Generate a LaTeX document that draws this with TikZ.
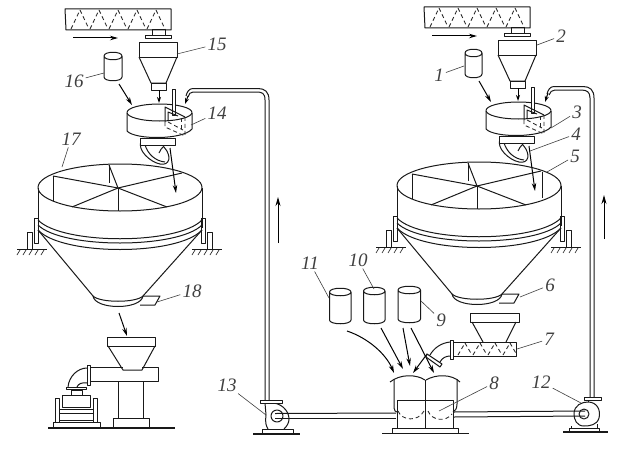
\documentclass[tikz,border=0pt]{standalone}
\usepackage{fontspec}
\setmainfont{Liberation Serif}
\usetikzlibrary{arrows.meta}
\tikzset{
  ln/.style={draw=black!90,line width=1pt,line join=round},
  thin ln/.style={draw=black!80,line width=0.7pt},
  dash ln/.style={draw=black!85,line width=0.85pt,dash pattern=on 4pt off 3pt},
  flow/.style={draw=black,line width=1pt,-{Stealth[length=8pt,width=4.5pt]}},
  lbl/.style={font=\fontsize{19}{19}\selectfont\itshape,text=black!75,inner sep=2pt},
  lead/.style={draw=black!75,line width=0.6pt}
}
\newcommand{\drum}[4]{% x1,x2,ytop,ybottom
  \draw[ln] (#1,#3) .. controls (#1,#3-5) and (#2,#3-5) .. (#2,#3) .. controls (#2,#3+5) and (#1,#3+5) .. (#1,#3) -- (#1,#4) .. controls (#1,#4+5) and (#2,#4+5) .. (#2,#4) -- (#2,#3);
}
\newcommand{\support}[3]{% post x, bracket x, ground centre
  \draw[ln] (#1-2.5,232) rectangle (#1+2.5,249);
  \draw[ln] (#2-2,218) rectangle (#2+2,243);
  \draw[ln,line width=1.2pt] (#3-15,249.5) -- (#3+15,249.5);
  \foreach \hx in {-12,-6,0,6,12} \draw[thin ln] (#3+\hx,250) -- (#3+\hx-3,255);
}
\newcommand{\feedunit}{%
  % conveyor
  \draw[ln] (65,9) -- (171,9) -- (171,30) -- (66,30) -- cycle;
  \foreach \zx in {71,90,109,128,147} {
    \draw[dash ln] (\zx,29) -- (\zx+9,10);
    \draw[dash ln] (\zx+9,10) -- (\zx+18,29);
  }
  \draw[ln] (152,30) rectangle (165,36);
  \draw[ln,fill=white] (145,36) rectangle (171,39);
  \draw[flow] (73,38) -- (118,38);
  % cyclone
  \draw[ln] (139,43) rectangle (177,57);
  \draw[ln] (139,57) -- (151,83) -- (166,83) -- (177,57);
  \draw[ln] (151,83) rectangle (166,90);
  \draw[flow,-{Stealth[length=6pt,width=4pt]}] (159,90) -- (159,103);
  % outlet and chute
  \draw[ln] (141,141) .. controls (137,150) and (150,162) .. (160,164)
     .. controls (170,166) and (172,156) .. (164,147);
  \draw[ln] (145,145) .. controls (148,154) and (155,161) .. (165,162);
  \draw[ln] (159,153) .. controls (160,150) and (162,148) .. (164,146);
  \draw[ln,fill=white] (140,138) rectangle (175,145);
  % bowl
  \draw[ln,fill=white] (127,113) -- (127,131) .. controls (135,140) and (183,140) .. (192,129) -- (192,113);
  \draw[ln,fill=white] (159.5,112.5) ellipse [x radius=32.5pt,y radius=8.5pt];
  % paddle
  \draw[ln,fill=white] (172,89) rectangle (175,115);
  \draw[ln] (165,122) -- (165,107) -- (185,117);
  \draw[ln] (168,121) -- (168,112) -- (178,116);
  \draw[dash ln] (165,122) -- (165,127) -- (185,136) -- (185,117);
  \draw[dash ln] (168,122) -- (183,130);
  \draw[dash ln] (181,118) -- (181,131);
  % flow into the tank
  \draw[flow] (170,148) -- (176,193);
  % tank
  \draw[ln] (120,187.5) ellipse [x radius=82pt,y radius=23.5pt];
  \draw[ln] (38,188) -- (38,228);
  \draw[ln] (202,188) -- (202,228);
  \draw[ln] (118,188) -- (53,176);
  \draw[ln] (118,188) -- (72,207);
  \draw[ln] (118,188) -- (167,207);
  \draw[ln] (118,188) -- (182,173);
  \draw[ln] (118,188) -- (109,165);
  \draw[ln] (53,176) -- (53,201);
  \draw[ln] (118,188) -- (118,211);
  \draw[ln] (109,165) -- (109,183);
  % rings
  \draw[ln] (38,220) .. controls (62,245) and (178,245) .. (202,220);
  \draw[ln] (38,225) .. controls (62,249) and (178,249) .. (202,225);
  \draw[ln] (38,230) .. controls (62,256) and (178,256) .. (202,230);
  % cone
  \draw[ln] (38,230) -- (93,296);
  \draw[ln] (202,230) -- (143,296);
  \draw[ln] (93,296) .. controls (95,310) and (141,310) .. (143,296);
  \draw[ln] (93,296) .. controls (100,303) and (136,303) .. (143,296);
  \support{29.5}{36}{32}
  \support{210}{203}{207}
  % gate
  \draw[ln] (143,296) -- (160,296) -- (155,305) -- (140,305);
}
\begin{document}
\begin{tikzpicture}[x=1pt,y=-1pt]
\useasboundingbox (0,0) rectangle (628,452);
\fill[white] (0,0) rectangle (628,452);

\feedunit
\begin{scope}[shift={(359,-2)}]
  \feedunit
  \draw[ln] (183,174) -- (183,200);
\end{scope}

% small drums above the bowls
\drum{104}{122}{56}{77}
\drum{465}{482}{53}{74}
\draw[flow] (119,84) -- (132,105);
\draw[flow] (479,81) -- (491,102);

% return pipes
\draw[ln] (265,400) -- (265,100) .. controls (265,93) and (262,92) .. (256,92) -- (193,92) .. controls (190,92) and (189,94) .. (188,97);
\draw[ln] (269,400) -- (269,100) .. controls (269,92) and (265,88.5) .. (258,88.5) -- (193,88.5) .. controls (189,88.5) and (187,92) .. (186,96);
\draw[flow,-{Stealth[length=6pt,width=4pt]}] (188,96) -- (185,104);
\draw[ln] (590,397) -- (590,98) .. controls (590,92) and (587,90) .. (581,90) -- (555,90) .. controls (552,90) and (550,92) .. (549,95);
\draw[ln] (594,397) -- (594,98) .. controls (594,90) and (590,86.5) .. (583,86.5) -- (554,86.5) .. controls (550,86.5) and (548,90) .. (547,94);
\draw[flow,-{Stealth[length=6pt,width=4pt]}] (548,93) -- (545,102);
\draw[flow,-{Stealth[length=9pt,width=5pt]}] (278,243) -- (278,197);
\draw[flow,-{Stealth[length=9pt,width=5pt]}] (604,239) -- (604,195);

% pump 13
\draw[ln] (265,403) -- (266,415) .. controls (265,422) and (266,426) .. (268,429);
\draw[ln] (270,403) .. controls (280,402) and (289,410) .. (289,419) .. controls (289,423) and (287,426) .. (284,429);
\draw[ln,fill=white] (260,400) rectangle (282,403);
\draw[ln] (262,429) rectangle (293,433);
\draw[ln,line width=1.2pt] (253,434) -- (300,434);
\draw[ln] (277,416) circle[radius=6pt];
% pump 12
\draw[ln] (574,414) .. controls (574,405) and (582,402) .. (588,402) .. controls (597,402) and (601,410) .. (599,418) .. controls (597,425) and (590,426) .. (584,426) .. controls (577,426) and (574,420) .. (574,414);
\draw[ln,fill=white] (584,397) rectangle (601,400);
\draw[ln] (588,400) -- (588,402);
\draw[ln] (571,426) -- (571,428);
\draw[ln] (597,424) -- (597,428);
\draw[ln] (569,428) rectangle (599,431);
\draw[ln,line width=1.2pt] (563,432) -- (608,432);
\draw[ln] (584,414) circle[radius=5pt];

% horizontal pipes
\draw[ln] (275,413.5) -- (396,413);
\draw[ln] (275,418) -- (396,418);
\draw[ln] (454,412) -- (585,411);
\draw[ln] (454,417) -- (585,416);

% drums 9 10 11
\drum{329.5}{351}{292}{320}
\drum{363.5}{385}{291}{320}
\drum{398}{420.5}{290}{319}

% flows to the mixer
\draw[flow] (347,331) .. controls (368,338) and (386,354) .. (394,373);
\draw[flow] (381,328) -- (403,369);
\draw[flow] (403,328) -- (410,366);
\draw[flow] (411,328) -- (434,373);
\draw[flow] (427,354) -- (413,373);

% screw 7
\draw[ln] (452,342) rectangle (516,356);
\foreach \zx in {458,473,488,503} {
  \draw[dash ln] (\zx,355) -- (\zx+7,343);
  \draw[dash ln] (\zx+7,343) -- (\zx+14,355);
}
\draw[ln,fill=white] (450,340) rectangle (453,359);
\draw[ln] (470,313) rectangle (519,322);
\draw[ln] (472,322) -- (483,342);
\draw[ln] (516,322) -- (506,342);
\draw[ln] (450,342) .. controls (441,343) and (434,348) .. (430,355);
\draw[ln] (450,356) .. controls (446,356) and (442,358) .. (440,362);
\draw[ln,fill=white] (427,354) -- (442,364) -- (440,367) -- (426,357) -- cycle;

% mixer 8
\draw[ln] (390,382) .. controls (400,374) and (416,374) .. (425,380);
\draw[ln] (426,380) .. controls (436,374) and (452,374) .. (460,382);
\draw[ln] (394,379) -- (394,408) .. controls (394,411) and (396,412) .. (397,412);
\draw[ln] (457,379) -- (457,404) .. controls (457,409) and (455,411) .. (453,412);
\draw[ln] (425.5,380) -- (425.5,428);
\draw[ln] (397,400) rectangle (453,428);
\draw[dash ln] (398,411) .. controls (402,421) and (418,422) .. (424,411);
\draw[dash ln] (428,411) .. controls (432,421) and (446,422) .. (452,414);
\draw[ln] (392,428) rectangle (458,433);
\draw[ln,line width=1.2pt] (382,433.5) -- (469,433.5);

% machine under the left tank
\draw[flow] (119,313) -- (127,336);
\draw[ln] (107,337) rectangle (155,346);
\draw[ln] (108,346) -- (123,370) -- (142,370) -- (155,346);
\draw[ln] (90,367) -- (123,367);
\draw[ln] (142,367) -- (158,367) -- (158,381) -- (90,381);
\draw[ln,fill=white] (87.5,365) rectangle (90,385);
\draw[ln] (87,368) .. controls (78,368) and (69,376) .. (68,387);
\draw[ln] (87,383) .. controls (82,382) and (78,384) .. (77,387);
\draw[ln] (66,387) rectangle (86,389.5);
\draw[ln] (71,390) rectangle (82,395.5);
\draw[ln] (62,395.5) rectangle (90,407);
\draw[ln] (55,398) rectangle (59,422);
\draw[ln] (93,398) rectangle (97,422);
\draw[ln] (59,409) -- (93,409);
\draw[ln] (59,413) -- (93,413);
\draw[ln] (59,420) -- (93,420);
\draw[ln] (53,422) rectangle (100,427);
\draw[ln] (118.5,381) -- (118.5,418);
\draw[ln] (143.5,381) -- (143.5,418);
\draw[ln] (113,418) rectangle (149,427);
\draw[ln,line width=1.2pt] (48,428) -- (175,428);

% labels
\node[lbl] (n15) at (217,44) {15};
\node[lbl] (n16) at (74,81) {16};
\node[lbl] (n14) at (217,113) {14};
\node[lbl] (n17) at (71,139) {17};
\node[lbl] (n18) at (192,291) {18};
\node[lbl] (n13) at (227,385) {13};
\node[lbl] (n1) at (439,75) {1};
\node[lbl] (n2) at (561,36) {2};
\node[lbl] (n3) at (577,112) {3};
\node[lbl] (n4) at (576,134) {4};
\node[lbl] (n5) at (575,156) {5};
\node[lbl] (n6) at (550,285) {6};
\node[lbl] (n7) at (549,339) {7};
\node[lbl] (n8) at (494,383) {8};
\node[lbl] (n9) at (441,320) {9};
\node[lbl] (n10) at (358,260) {10};
\node[lbl] (n11) at (310,263) {11};
\node[lbl] (n12) at (541,382) {12};

\coordinate (e15) at (177,54);
\coordinate (e16) at (104,73);
\coordinate (e14) at (191,125);
\coordinate (e17) at (62,167);
\coordinate (e18) at (157,302);
\coordinate (e13) at (266,415);
\coordinate (e1) at (464,66);
\coordinate (e2) at (537,45);
\coordinate (e3) at (551,128);
\coordinate (e4) at (530,151);
\coordinate (e5) at (547,172);
\coordinate (e6) at (520,297);
\coordinate (e7) at (517,349);
\coordinate (e8) at (439,411);
\coordinate (e9) at (421,301);
\coordinate (e10) at (374,289);
\coordinate (e11) at (329,298);
\coordinate (e12) at (581,403);

\foreach \k in {15,16,14,17,18,13,1,2,3,4,5,6,7,8,9,10,11,12}
  \draw[lead] (n\k) -- (e\k);
\end{tikzpicture}
\end{document}
